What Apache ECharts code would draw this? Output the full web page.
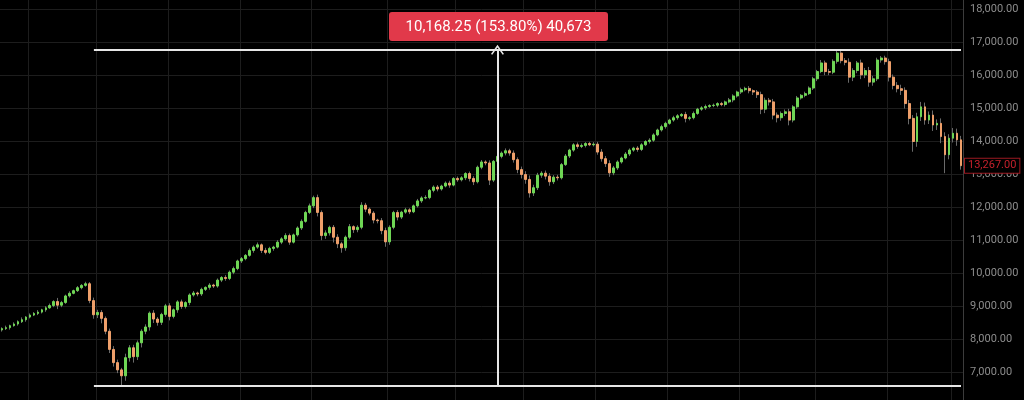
<!DOCTYPE html>
<html><head><meta charset="utf-8">
<script src="https://cdn.jsdelivr.net/npm/echarts@6/dist/echarts.min.js"></script>
<style>html,body{margin:0;padding:0;background:#000;}#c{width:1024px;height:400px;}</style>
</head><body><div id="c"></div>
<script>
const firstOpen = 8290;
const closes = [
8330,8360,8420,8470,8540,8600,8680,8740,8790,8830,8900,8960,9030,9150,9040,9120,9320,9400,9480,9570,
9640,9690,9180,8750,8820,8640,8250,7700,7300,7080,6900,7450,7750,7480,7900,8250,8380,8800,8620,8520,
8760,9020,8700,8900,9140,9000,9120,9350,9410,9380,9520,9580,9650,9620,9800,9880,9850,10040,10150,10380,
10450,10550,10700,10800,10870,10700,10640,10760,10800,10950,11050,11150,10950,11170,11380,11580,11850,12050,12300,11850,
11150,11230,11400,11100,10900,10780,11100,11420,11330,11400,12070,11950,11830,11620,11600,11300,10960,11400,11850,11710,
11860,11930,11870,12050,12200,12290,12300,12520,12620,12560,12650,12740,12680,12880,12840,12900,13030,12880,12780,13220,
13380,13350,12830,13400,13550,13650,13720,13650,13450,13150,13000,12850,12440,12600,12980,13040,12950,12780,12920,12900,
13300,13560,13740,13900,13850,13880,13940,13900,13920,13680,13480,13330,13050,13200,13380,13500,13620,13740,13800,13760,
13900,14000,14040,14200,14350,14450,14550,14650,14720,14780,14820,14700,14720,14850,14980,15020,15060,15090,15100,15150,
15120,15200,15260,15380,15500,15570,15610,15540,15500,15420,14980,15250,15200,14800,14720,14850,14900,14650,15050,15320,
15400,15450,15620,15900,16120,16380,16120,16100,16430,16680,16450,16400,15950,16150,16380,16020,16150,15800,15900,16470,
16530,16420,15950,15700,15600,15550,15150,14700,14000,14750,15050,14650,14800,14500,14550,14150,13600,14100,14250,14050,
13267];
const upperWicks = [
40,60,30,50,40,70,30,50,40,60,30,50,60,40,110,50,40,60,30,50,
40,60,50,90,80,70,60,80,100,90,60,120,80,90,70,60,80,50,90,60,
50,60,80,40,50,70,40,50,60,40,50,30,60,40,50,40,70,50,60,40,
50,40,60,50,70,40,80,50,40,60,50,70,60,40,50,60,50,70,60,90,
60,80,50,70,90,60,50,80,40,60,90,70,50,60,40,80,90,60,50,70,
40,60,50,40,60,50,70,40,50,60,40,50,70,40,60,50,40,60,70,50,
60,50,80,40,60,50,70,60,80,70,90,100,120,90,70,60,80,90,60,70,
50,60,40,50,70,60,40,50,60,70,90,80,100,60,50,40,60,50,40,60,
50,40,60,50,40,60,50,40,60,50,40,80,50,60,40,50,60,40,50,40,
50,40,60,50,40,60,50,70,40,60,90,80,70,90,80,60,70,90,50,60,
40,60,50,60,50,90,70,80,60,99,70,80,120,70,60,100,80,110,90,70,
60,70,90,80,100,120,90,110,100,120,150,130,110,140,120,150,130,120,160,140,
120];
const lowerWicks = [
50,40,60,30,50,40,60,40,30,50,40,60,30,50,120,60,40,50,30,40,
50,40,80,120,100,150,90,110,120,100,289,150,120,180,100,140,90,110,120,100,
80,70,120,60,90,70,60,80,50,70,60,50,70,60,50,60,70,50,60,50,
60,50,40,70,50,80,60,50,70,40,60,50,80,40,50,60,40,50,70,120,
140,100,80,160,130,150,90,60,100,80,60,90,70,100,80,110,150,90,60,100,
60,50,70,40,50,60,40,50,60,70,50,40,80,40,60,50,70,90,100,50,
60,70,150,60,50,60,70,80,90,110,120,130,140,90,70,80,100,120,70,80,
50,40,60,50,70,50,60,40,50,80,90,100,120,70,60,50,40,60,50,70,
50,40,60,50,40,50,60,40,50,60,40,120,60,50,40,50,60,40,50,60,
50,60,40,70,50,60,50,80,90,100,150,120,110,130,140,90,80,160,70,60,
50,60,40,60,70,50,110,90,60,70,80,90,170,120,80,130,100,140,110,70,
80,90,130,120,110,140,150,180,310,160,130,140,120,180,150,200,560,140,130,180,
120];
const yTicks = [7000,8000,9000,10000,11000,12000,13000,14000,15000,16000,17000,18000];
const xGridCats = [7,24,42,60,78,97,114,131,149,167,185,204,222,238];
const measureLow = 6611, measureHigh = 16779;
const measureStart = 23, measureEnd = 240, measureAt = 124;
const measureText = '10,168.25 (153.80%) 40,673';
const lastPrice = 13267;

const cats = closes.map((_, i) => String(i));
const opens = closes.map((c, i) => i === 0 ? firstOpen : closes[i - 1]);
const wickData = closes.map((c, i) => {
  const o = opens[i];
  return [o, c, Math.min(o, c) - lowerWicks[i], Math.max(o, c) + upperWicks[i]];
});
const bodyData = closes.map((c, i) => {
  const o = opens[i];
  return [o, c, Math.min(o, c), Math.max(o, c)];
});
const fmt = v => v.toLocaleString('en-US', {minimumFractionDigits: 2, maximumFractionDigits: 2});

const chart = echarts.init(document.getElementById('c'), null, {renderer: 'canvas'});
const white = '#e6e6e6';
chart.setOption({
  backgroundColor: '#000',
  animation: false,
  textStyle: {fontFamily: 'Roboto'},
  grid: {left: 0, right: 61, top: 0, bottom: 0},
  xAxis: {
    type: 'category', data: cats, boundaryGap: true,
    axisLine: {show: false}, axisTick: {show: false}, axisLabel: {show: false},
    splitLine: {show: true, interval: (i) => xGridCats.includes(i), lineStyle: {color: '#1d1d1d', width: 1}}
  },
  yAxis: {
    type: 'value', position: 'right', min: 6167, max: 18288, scale: true,
    axisLine: {show: true, lineStyle: {color: '#3c3c3c'}},
    axisTick: {show: false, customValues: yTicks},
    axisLabel: {customValues: yTicks, color: '#8c8c8c', fontSize: 11, margin: 7, formatter: v => fmt(v)},
    splitLine: {show: true, lineStyle: {color: '#1d1d1d', width: 1}}
  },
  series: [
    {
      type: 'candlestick', data: wickData, barWidth: 1,
      itemStyle: {color: '#6a6a6a', color0: '#6a6a6a', borderColor: '#6a6a6a', borderColor0: '#6a6a6a', borderWidth: 1},
      silent: true
    },
    {
      type: 'candlestick', data: bodyData, barWidth: 2.4,
      itemStyle: {color: '#6fd655', color0: '#ee9f6a', borderColor: '#6fd655', borderColor0: '#ee9f6a', borderWidth: 1},
      silent: true,
      markLine: {
        silent: true, symbol: ['none', 'none'],
        label: {show: false},
        lineStyle: {color: white, width: 2, type: 'solid'},
        data: [
          [{coord: [String(measureStart), measureHigh]}, {coord: [String(measureEnd), measureHigh]}],
          [{coord: [String(measureStart), measureLow]}, {coord: [String(measureEnd), measureLow]}],
          [{coord: [String(measureAt), measureLow]},
           {coord: [String(measureAt), measureHigh], symbol: 'path://M0,10 L5,0 L10,10 L9,11 L5,3 L1,11 Z', symbolSize: [13, 10]}]
        ]
      }
    },
    {
      type: 'line', data: [], silent: true,
      markLine: {
        silent: true, symbol: ['none', 'none'],
        lineStyle: {color: 'rgba(0,0,0,0)', width: 0},
        data: [{
          yAxis: lastPrice,
          label: {show: true, position: 'end', distance: 2, formatter: fmt(lastPrice), color: '#c4202c', fontSize: 11,
                  fontFamily: 'Roboto', borderColor: '#9c1a22', borderWidth: 1, backgroundColor: '#000', padding: [2, 3, 1, 3]}
        }]
      }
    }
  ],
  graphic: [{
    type: 'group', left: 389, top: 12, z: 100,
    children: [
      {type: 'rect', z: 100, shape: {x: 0, y: 0, width: 219, height: 29, r: 3}, style: {fill: '#e1394a'}},
      {type: 'text', z: 101, x: 109.5, y: 15, style: {text: measureText, fill: '#fff', fontSize: 15, fontFamily: 'Roboto', align: 'center', verticalAlign: 'middle'}}
    ]
  }]
});
</script></body></html>
